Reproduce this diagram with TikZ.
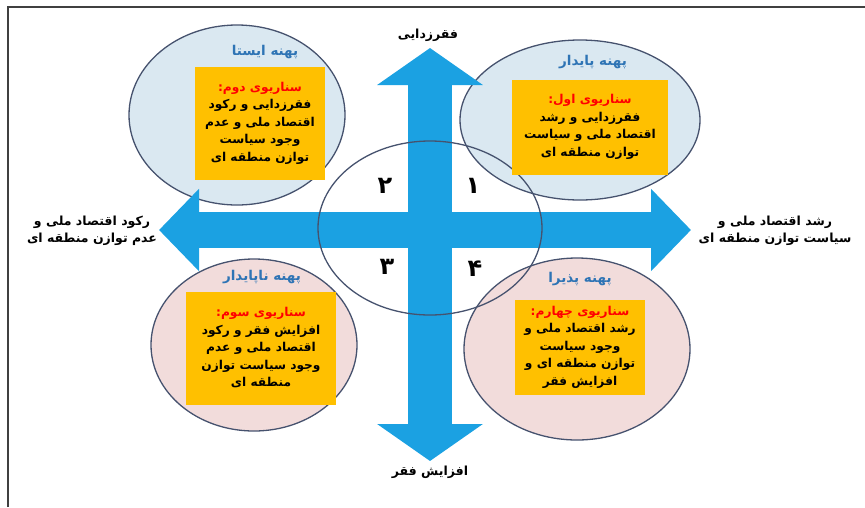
\documentclass[tikz,border=0pt]{standalone}
\usepackage{fontspec}
\newfontfamily\fa[Script=Arabic]{DejaVu Sans}
\TeXXeTstate=1
\usetikzlibrary{arrows.meta,shapes.geometric}

\definecolor{axisblue}{RGB}{27,161,226}
\definecolor{boxorange}{RGB}{255,192,0}
\definecolor{titleblue}{RGB}{46,116,181}
\definecolor{zoneblue}{RGB}{218,232,241}
\definecolor{zonepink}{RGB}{242,220,219}
\definecolor{zoneline}{RGB}{70,82,110}

\newcommand{\rl}[1]{\beginR #1\endR}

\tikzset{
  zone/.style={ellipse, draw=zoneline, line width=1.3pt, inner sep=0pt},
  scenario/.style={fill=boxorange, align=center, inner sep=2pt,
    font=\fa\bfseries\fontsize{12.2}{17.5}\selectfont},
  zonetitle/.style={text=titleblue, font=\fa\bfseries\fontsize{13.5}{15}\selectfont},
  axislabel/.style={align=center, font=\fa\bfseries\fontsize{12.5}{17}\selectfont},
  quadnum/.style={font=\fa\bfseries\fontsize{24}{26}\selectfont},
}

\begin{document}
\begin{tikzpicture}[x=1pt, y=-1pt]
  \useasboundingbox (0,0) rectangle (865,507);
  \draw[line width=1.5pt, black!75] (8,507) -- (8,7) -- (865,7);

  % the four zones
  \node[zone, fill=zoneblue, minimum width=216, minimum height=180] (stable) at (237,115) {};
  \node[zone, fill=zoneblue, minimum width=240, minimum height=160] (durable) at (580,120) {};
  \node[zone, fill=zonepink, minimum width=206, minimum height=172] (unstable) at (254,345) {};
  \node[zone, fill=zonepink, minimum width=226, minimum height=182] (receptive) at (577,349) {};

  % axes
  \coordinate (up) at (430,48);
  \coordinate (down) at (430,461);
  \coordinate (left) at (159,230);
  \coordinate (right) at (691,230);
  \draw[axisblue, line width=44pt, {Triangle[width=104pt,length=37pt]}-{Triangle[width=104pt,length=37pt]}] (down) -- (up);
  \draw[axisblue, line width=36pt, {Triangle[width=80pt,length=40pt]}-{Triangle[width=80pt,length=40pt]}] (left) -- (right);

  \node[zone, minimum width=224, minimum height=174] (core) at (430,228) {};

  \node[axislabel] (poverty-) at (428,35) {\rl{فقرزدایی}};
  \node[axislabel] (poverty+) at (430,472) {\rl{افزایش فقر}};
  \node[axislabel] (decline) at (92,231) {\rl{رکود اقتصاد ملی و}\\\rl{عدم توازن منطقه ای}};
  \node[axislabel] (growth) at (775,231) {\rl{رشد اقتصاد ملی و}\\\rl{سیاست توازن منطقه ای}};

  % scenarios
  \node[zonetitle] (t2) at (265,52) {\rl{پهنه ایستا}};
  \node[scenario, minimum width=130, minimum height=113] (s2) at (260,123)
    {\textcolor{red}{\rl{سناریوی دوم:}}\\\rl{فقرزدایی و رکود}\\\rl{اقتصاد ملی و عدم}\\\rl{وجود سیاست}\\\rl{توازن منطقه ای}};
  \node[zonetitle] (t1) at (593,62) {\rl{پهنه پایدار}};
  \node[scenario, minimum width=156, minimum height=95] (s1) at (590,127)
    {\textcolor{red}{\rl{سناریوی اول:}}\\\rl{فقرزدایی و رشد}\\\rl{اقتصاد ملی و سیاست}\\\rl{توازن منطقه ای}};
  \node[zonetitle] (t3) at (262,277) {\rl{پهنه ناپایدار}};
  \node[scenario, minimum width=150, minimum height=113] (s3) at (261,348)
    {\textcolor{red}{\rl{سناریوی سوم:}}\\\rl{افزایش فقر و رکود}\\\rl{اقتصاد ملی و عدم}\\\rl{وجود سیاست توازن}\\\rl{منطقه ای}};
  \node[zonetitle] (t4) at (580,279) {\rl{پهنه پذیرا}};
  \node[scenario, minimum width=130, minimum height=95] (s4) at (580,347)
    {\textcolor{red}{\rl{سناریوی چهارم:}}\\\rl{رشد اقتصاد ملی و}\\\rl{وجود سیاست}\\\rl{توازن منطقه ای و}\\\rl{افزایش فقر}};

  \node[quadnum] (q1) at (473,186) {۱};
  \node[quadnum] (q2) at (385,186) {۲};
  \node[quadnum] (q3) at (387,267) {۳};
  \node[quadnum] (q4) at (475,269) {۴};
\end{tikzpicture}
\end{document}
